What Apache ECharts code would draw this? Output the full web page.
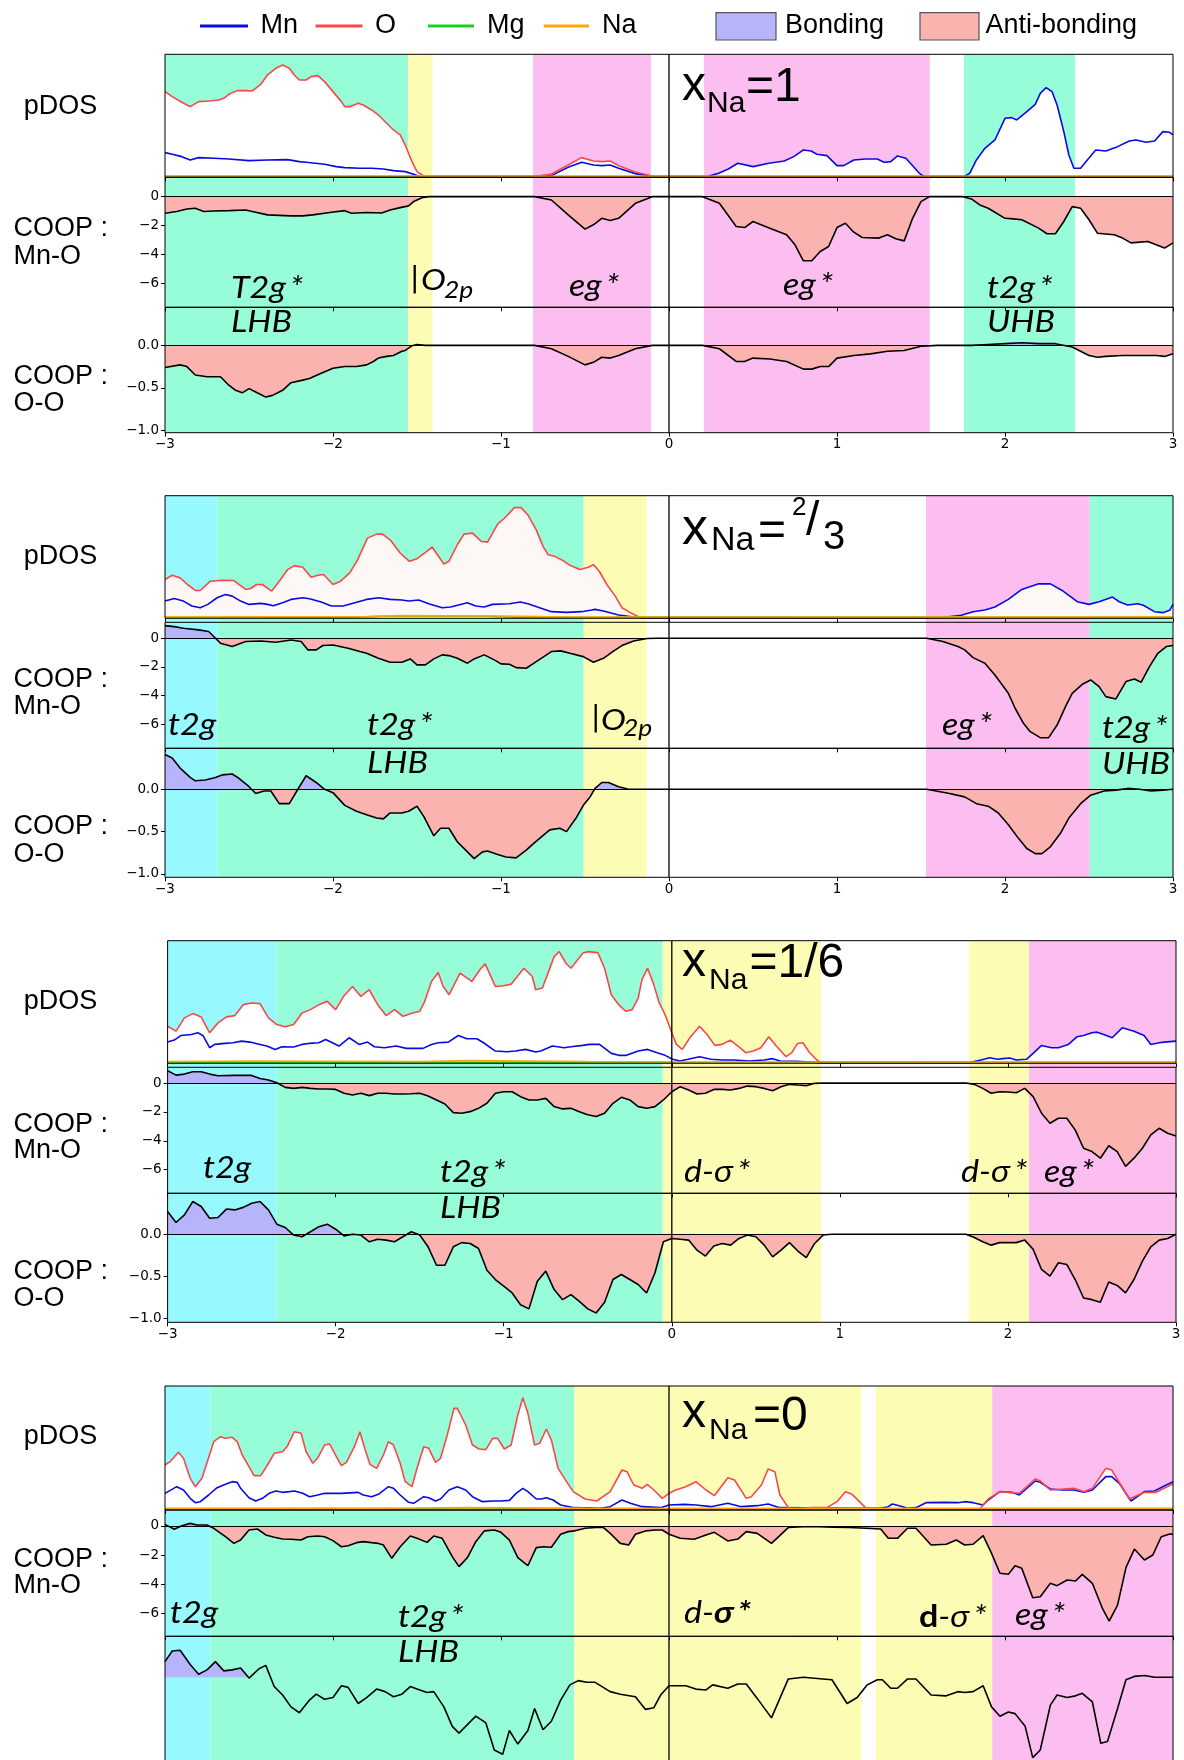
<!DOCTYPE html>
<html><head><meta charset="utf-8">
<script src="https://cdn.jsdelivr.net/npm/echarts@6/dist/echarts.min.js"></script>
<style>html,body{margin:0;padding:0;background:#fff}#c{width:1184px;height:1760px}</style>
</head><body><div id="c"></div>
<script>
// ---------------- DATA (energy in eV) ----------------
const xTicks = [-3,-2,-1,0,1,2,3];
const mnoTicks = [0,-2,-4,-6];
const ooTicks = [0,-0.5,-1];

// background regions [E0, E1, kind]
const p1_bands = [[-3,-1.554,'g'],[-1.554,-1.408,'y'],[-0.81,-0.108,'p'],[0.208,1.552,'p'],[1.756,2.417,'g']];
const p2_bands = [[-3,-2.688,'c'],[-2.688,-0.508,'g'],[-0.508,-0.133,'y'],[1.53,2.504,'p'],[2.504,3,'g']];
const p3_bands = [[-3,-2.351,'c'],[-2.351,-0.054,'g'],[-0.054,0.888,'y'],[1.768,2.126,'y'],[2.126,3,'p']];
const p4_bands = [[-3,-2.729,'c'],[-2.729,-0.565,'g'],[-0.565,1.146,'y'],[1.231,1.924,'y'],[1.924,3,'p']];

// ---- panel 1 : x_Na = 1
const p1_O = [[-3,2.55],[-2.957,2.40],[-2.9,2.23],[-2.85,2.10],[-2.8,2.25],[-2.74,2.27],[-2.68,2.30],[-2.65,2.35],[-2.62,2.47],[-2.57,2.58],[-2.52,2.58],[-2.48,2.57],[-2.43,2.77],[-2.39,3.05],[-2.34,3.25],[-2.30,3.35],[-2.26,3.25],[-2.23,3.05],[-2.20,2.90],[-2.16,2.90],[-2.13,3.00],[-2.09,3.03],[-2.05,2.85],[-2.0,2.55],[-1.95,2.25],[-1.93,2.10],[-1.90,2.10],[-1.85,2.20],[-1.82,2.15],[-1.77,2.00],[-1.73,1.85],[-1.68,1.60],[-1.64,1.40],[-1.60,1.25],[-1.57,0.95],[-1.53,0.45],[-1.50,0.15],[-1.46,0.02],[-1.41,0],[-0.8,0],[-0.7,0.08],[-0.6,0.35],[-0.52,0.57],[-0.45,0.47],[-0.4,0.45],[-0.35,0.47],[-0.3,0.33],[-0.2,0.14],[-0.1,0.02],[-0.05,0],[3,0]];
const p1_Mn = [[-3,0.72],[-2.957,0.67],[-2.9,0.60],[-2.85,0.50],[-2.8,0.57],[-2.71,0.55],[-2.62,0.53],[-2.5,0.48],[-2.39,0.50],[-2.27,0.51],[-2.2,0.45],[-2.16,0.43],[-2.05,0.37],[-1.98,0.30],[-1.93,0.27],[-1.84,0.25],[-1.77,0.25],[-1.70,0.23],[-1.64,0.18],[-1.57,0.15],[-1.52,0.07],[-1.48,0],[-0.8,0],[-0.7,0.03],[-0.6,0.28],[-0.52,0.43],[-0.45,0.35],[-0.4,0.33],[-0.35,0.35],[-0.3,0.25],[-0.2,0.09],[-0.1,0.01],[-0.05,0],[0.227,0],[0.296,0.10],[0.353,0.23],[0.41,0.40],[0.50,0.30],[0.594,0.40],[0.686,0.47],[0.743,0.60],[0.80,0.80],[0.846,0.77],[0.88,0.67],[0.94,0.63],[1.00,0.33],[1.04,0.33],[1.10,0.50],[1.17,0.53],[1.24,0.53],[1.28,0.43],[1.32,0.45],[1.36,0.62],[1.41,0.55],[1.49,0.10],[1.52,0],[1.757,0],[1.79,0.10],[1.83,0.50],[1.88,0.85],[1.94,1.10],[2.00,1.75],[2.04,1.77],[2.07,1.70],[2.13,1.95],[2.18,2.17],[2.21,2.50],[2.245,2.67],[2.28,2.55],[2.31,2.15],[2.35,1.35],[2.38,0.65],[2.41,0.25],[2.45,0.25],[2.49,0.50],[2.54,0.80],[2.60,0.77],[2.67,0.90],[2.74,1.07],[2.78,1.10],[2.84,1.03],[2.89,1.07],[2.94,1.35],[2.98,1.33],[3.0,1.25]];
const p1_Mg = [[-3,0.01],[3,0.01]];
const p1_Na = [[-3,0.02],[-1.45,0.02],[-1.4,0],[3,0]];
const p1_MnO = [[-3,-1.15],[-2.93,-1.03],[-2.87,-0.85],[-2.82,-0.80],[-2.77,-1.03],[-2.71,-0.99],[-2.62,-0.97],[-2.52,-0.92],[-2.48,-1.03],[-2.39,-1.26],[-2.25,-1.33],[-2.18,-1.33],[-2.12,-1.26],[-2.02,-1.10],[-1.93,-0.97],[-1.89,-1.15],[-1.80,-1.10],[-1.71,-1.13],[-1.66,-0.92],[-1.60,-0.76],[-1.55,-0.64],[-1.52,-0.34],[-1.47,-0.07],[-1.43,0],[-0.8,0],[-0.7,-0.23],[-0.6,-1.26],[-0.5,-2.25],[-0.45,-1.95],[-0.4,-1.5],[-0.35,-1.65],[-0.3,-1.5],[-0.2,-0.46],[-0.1,0],[0.2,0],[0.3,-0.46],[0.4,-2.07],[0.45,-2.14],[0.5,-1.72],[0.6,-2.18],[0.7,-2.64],[0.75,-3.33],[0.8,-4.44],[0.85,-4.44],[0.9,-3.8],[0.95,-3.45],[1.0,-2.14],[1.05,-1.84],[1.1,-2.46],[1.15,-2.83],[1.25,-2.87],[1.3,-2.64],[1.35,-2.92],[1.4,-3.06],[1.45,-1.5],[1.5,-0.34],[1.55,0],[1.75,0],[1.8,-0.16],[1.85,-0.57],[1.9,-0.8],[2.0,-1.5],[2.05,-1.54],[2.1,-1.6],[2.2,-2.18],[2.25,-2.57],[2.3,-2.57],[2.35,-1.72],[2.4,-0.69],[2.45,-0.8],[2.5,-1.6],[2.55,-2.53],[2.65,-2.64],[2.7,-2.87],[2.75,-3.2],[2.85,-3.1],[2.9,-3.33],[2.95,-3.56],[3.0,-3.2]];
const p1_OO = [[-3,-0.26],[-2.91,-0.23],[-2.87,-0.25],[-2.82,-0.35],[-2.75,-0.37],[-2.67,-0.37],[-2.62,-0.47],[-2.58,-0.53],[-2.54,-0.56],[-2.50,-0.51],[-2.46,-0.55],[-2.40,-0.61],[-2.36,-0.59],[-2.30,-0.53],[-2.25,-0.44],[-2.18,-0.41],[-2.14,-0.39],[-2.07,-0.33],[-2.0,-0.27],[-1.93,-0.25],[-1.86,-0.25],[-1.80,-0.23],[-1.76,-0.19],[-1.73,-0.15],[-1.68,-0.13],[-1.64,-0.12],[-1.59,-0.07],[-1.57,-0.06],[-1.53,-0.005],[-1.50,0.01],[-1.45,0],[-0.8,0],[-0.7,-0.04],[-0.6,-0.13],[-0.5,-0.23],[-0.45,-0.2],[-0.4,-0.14],[-0.35,-0.15],[-0.3,-0.12],[-0.2,-0.04],[-0.1,0],[0.2,0],[0.3,-0.04],[0.4,-0.19],[0.45,-0.19],[0.5,-0.15],[0.6,-0.16],[0.7,-0.19],[0.8,-0.28],[0.85,-0.28],[0.9,-0.25],[0.95,-0.25],[1.0,-0.15],[1.1,-0.12],[1.2,-0.10],[1.3,-0.07],[1.4,-0.06],[1.5,-0.01],[1.6,0],[1.8,0],[1.9,0.01],[2.0,0.02],[2.1,0.03],[2.2,0.02],[2.3,0.02],[2.4,-0.02],[2.5,-0.12],[2.55,-0.14],[2.6,-0.13],[2.7,-0.12],[2.8,-0.12],[2.9,-0.12],[2.95,-0.13],[3.0,-0.1]];

// ---- panel 2 : x_Na = 2/3
const p2_O = [[-3,1.15],[-2.957,1.28],[-2.91,1.20],[-2.866,1.00],[-2.82,0.82],[-2.79,0.82],[-2.73,1.10],[-2.66,1.13],[-2.59,1.12],[-2.52,0.85],[-2.49,0.88],[-2.455,1.0],[-2.42,1.0],[-2.365,0.80],[-2.32,1.10],[-2.27,1.45],[-2.23,1.57],[-2.18,1.52],[-2.13,1.22],[-2.09,1.28],[-2.056,1.30],[-2.0,1.0],[-1.955,1.10],[-1.90,1.35],[-1.853,1.75],[-1.795,2.40],[-1.74,2.52],[-1.705,2.52],[-1.66,2.35],[-1.60,1.95],[-1.545,1.70],[-1.50,1.78],[-1.455,1.95],[-1.41,2.13],[-1.34,1.62],[-1.31,1.70],[-1.26,2.20],[-1.22,2.52],[-1.17,2.55],[-1.117,2.30],[-1.08,2.28],[-1.02,2.82],[-0.98,3.0],[-0.92,3.32],[-0.88,3.32],[-0.84,3.10],[-0.79,2.65],[-0.75,2.15],[-0.72,1.90],[-0.68,1.85],[-0.63,1.72],[-0.59,1.58],[-0.53,1.45],[-0.48,1.52],[-0.45,1.60],[-0.415,1.40],[-0.37,1.0],[-0.32,0.65],[-0.28,0.30],[-0.23,0.15],[-0.17,0],[3,0]];
const p2_Mn = [[-3,0.50],[-2.945,0.58],[-2.89,0.50],[-2.84,0.35],[-2.79,0.30],[-2.745,0.40],[-2.69,0.60],[-2.64,0.70],[-2.6,0.65],[-2.55,0.50],[-2.5,0.40],[-2.43,0.43],[-2.39,0.40],[-2.355,0.36],[-2.30,0.45],[-2.25,0.55],[-2.18,0.60],[-2.14,0.57],[-2.07,0.47],[-2.01,0.35],[-1.94,0.35],[-1.87,0.45],[-1.80,0.55],[-1.727,0.60],[-1.66,0.55],[-1.59,0.53],[-1.55,0.50],[-1.49,0.53],[-1.43,0.42],[-1.35,0.30],[-1.30,0.32],[-1.20,0.45],[-1.15,0.35],[-1.10,0.32],[-1.05,0.40],[-0.95,0.42],[-0.885,0.47],[-0.84,0.42],[-0.77,0.30],[-0.70,0.18],[-0.61,0.16],[-0.52,0.18],[-0.46,0.23],[-0.44,0.25],[-0.39,0.20],[-0.30,0.08],[-0.21,0.02],[-0.14,0],[1.534,0],[1.65,0.02],[1.74,0.07],[1.81,0.18],[1.88,0.23],[1.94,0.32],[2.02,0.55],[2.10,0.85],[2.20,1.02],[2.27,1.02],[2.34,0.82],[2.43,0.48],[2.50,0.40],[2.56,0.48],[2.64,0.62],[2.68,0.48],[2.73,0.38],[2.79,0.42],[2.82,0.38],[2.89,0.18],[2.94,0.15],[2.98,0.22],[3.0,0.40]];
const p2_Mg = [[-3,0.01],[-1.9,0.01],[-1.7,0.04],[-1.1,0.04],[-0.9,0.01],[3,0.01]];
const p2_Na = [[-3,0.02],[-1.8,0.03],[-1.6,0.06],[-1.0,0.05],[-0.6,0.02],[3,0.02]];
const p2_MnO = [[-3.0,0.88],[-2.945,0.81],[-2.89,0.70],[-2.80,0.58],[-2.74,0.47],[-2.71,0.12],[-2.67,-0.35],[-2.60,-0.58],[-2.52,-0.23],[-2.43,-0.19],[-2.34,-0.28],[-2.25,-0.12],[-2.19,-0.23],[-2.15,-0.81],[-2.10,-0.81],[-2.06,-0.51],[-2.0,-0.47],[-1.91,-0.70],[-1.84,-0.93],[-1.80,-1.05],[-1.73,-1.40],[-1.66,-1.67],[-1.59,-1.67],[-1.54,-1.44],[-1.50,-1.86],[-1.45,-1.86],[-1.40,-1.44],[-1.35,-1.16],[-1.31,-1.21],[-1.26,-1.40],[-1.20,-1.74],[-1.16,-1.44],[-1.10,-1.16],[-1.04,-1.51],[-1.0,-1.79],[-0.95,-1.81],[-0.91,-2.05],[-0.85,-2.09],[-0.79,-1.63],[-0.70,-0.93],[-0.645,-0.88],[-0.59,-1.05],[-0.51,-1.28],[-0.45,-1.67],[-0.39,-1.40],[-0.335,-0.93],[-0.28,-0.51],[-0.21,-0.19],[-0.13,-0.02],[-0.07,0],[1.534,0],[1.63,-0.23],[1.72,-0.58],[1.76,-0.81],[1.81,-1.35],[1.88,-1.74],[1.94,-2.56],[2.02,-3.84],[2.06,-4.88],[2.11,-5.93],[2.15,-6.51],[2.21,-6.93],[2.26,-6.93],[2.31,-6.05],[2.36,-4.77],[2.40,-3.84],[2.46,-3.21],[2.51,-2.91],[2.56,-3.37],[2.60,-4.07],[2.66,-4.23],[2.72,-3.02],[2.77,-2.84],[2.81,-3.07],[2.86,-1.98],[2.91,-1.05],[2.96,-0.58],[3.0,-0.51]];
const p2_OO = [[-3,0.41],[-2.957,0.37],[-2.91,0.25],[-2.85,0.14],[-2.82,0.10],[-2.76,0.11],[-2.70,0.14],[-2.66,0.17],[-2.60,0.18],[-2.56,0.13],[-2.51,0.05],[-2.46,-0.05],[-2.41,-0.02],[-2.37,-0.02],[-2.32,-0.17],[-2.26,-0.17],[-2.20,0.03],[-2.16,0.16],[-2.10,0.08],[-2.05,0.0],[-2.0,-0.04],[-1.93,-0.19],[-1.86,-0.26],[-1.80,-0.30],[-1.74,-0.34],[-1.70,-0.35],[-1.66,-0.28],[-1.59,-0.28],[-1.55,-0.26],[-1.50,-0.20],[-1.46,-0.32],[-1.40,-0.55],[-1.36,-0.46],[-1.31,-0.46],[-1.26,-0.62],[-1.20,-0.74],[-1.16,-0.82],[-1.11,-0.74],[-1.08,-0.73],[-1.02,-0.77],[-0.97,-0.80],[-0.91,-0.81],[-0.85,-0.72],[-0.80,-0.63],[-0.71,-0.48],[-0.65,-0.46],[-0.61,-0.50],[-0.55,-0.33],[-0.51,-0.19],[-0.47,-0.09],[-0.44,0.01],[-0.40,0.08],[-0.36,0.08],[-0.30,0.03],[-0.24,0],[1.534,0],[1.67,-0.05],[1.76,-0.09],[1.83,-0.17],[1.90,-0.20],[1.96,-0.28],[2.02,-0.42],[2.08,-0.58],[2.13,-0.70],[2.18,-0.76],[2.22,-0.76],[2.27,-0.68],[2.33,-0.52],[2.38,-0.34],[2.45,-0.17],[2.51,-0.07],[2.59,-0.02],[2.66,-0.01],[2.73,0.01],[2.80,0],[2.87,-0.02],[2.94,-0.01],[3.0,0]];

// ---- panel 3 : x_Na = 1/6
const p3_O = [[-3,1.10],[-2.95,0.95],[-2.9,1.35],[-2.85,1.48],[-2.8,1.38],[-2.75,0.90],[-2.7,1.20],[-2.65,1.38],[-2.6,1.42],[-2.55,1.75],[-2.5,1.80],[-2.45,1.78],[-2.4,1.35],[-2.35,1.15],[-2.3,1.08],[-2.25,1.15],[-2.2,1.50],[-2.15,1.60],[-2.1,1.75],[-2.05,1.85],[-2.0,1.60],[-1.95,2.02],[-1.9,2.30],[-1.85,2.00],[-1.8,2.20],[-1.75,1.75],[-1.7,1.42],[-1.65,1.60],[-1.6,1.40],[-1.55,1.48],[-1.5,1.55],[-1.47,1.85],[-1.43,2.45],[-1.39,2.72],[-1.36,2.30],[-1.325,2.05],[-1.26,2.70],[-1.19,2.45],[-1.14,2.82],[-1.11,2.98],[-1.05,2.30],[-1.0,2.32],[-0.955,2.37],[-0.88,2.85],[-0.83,2.60],[-0.81,2.20],[-0.77,2.25],[-0.70,3.20],[-0.67,3.35],[-0.63,3.00],[-0.60,2.85],[-0.53,3.30],[-0.50,3.35],[-0.44,3.32],[-0.40,2.85],[-0.36,2.05],[-0.316,1.75],[-0.275,1.55],[-0.236,1.60],[-0.20,1.95],[-0.178,2.50],[-0.144,2.85],[-0.11,2.40],[-0.076,1.82],[-0.04,1.45],[0,0.90],[0.027,0.55],[0.062,0.40],[0.108,0.75],[0.165,1.10],[0.21,0.85],[0.256,0.52],[0.297,0.55],[0.348,0.68],[0.394,0.50],[0.44,0.30],[0.485,0.35],[0.53,0.45],[0.577,0.78],[0.622,0.50],[0.68,0.18],[0.714,0.30],[0.748,0.58],[0.78,0.60],[0.817,0.32],[0.863,0.08],[0.886,0],[3,0]];
const p3_Mn = [[-3,0.62],[-2.96,0.68],[-2.92,0.82],[-2.86,0.85],[-2.82,0.90],[-2.79,0.82],[-2.75,0.45],[-2.72,0.55],[-2.66,0.58],[-2.61,0.60],[-2.56,0.65],[-2.51,0.62],[-2.45,0.55],[-2.41,0.50],[-2.36,0.40],[-2.32,0.48],[-2.25,0.47],[-2.20,0.55],[-2.16,0.58],[-2.10,0.60],[-2.06,0.70],[-2.02,0.60],[-1.98,0.50],[-1.92,0.75],[-1.86,0.55],[-1.81,0.62],[-1.77,0.48],[-1.71,0.45],[-1.64,0.50],[-1.58,0.43],[-1.48,0.43],[-1.43,0.55],[-1.39,0.60],[-1.33,0.62],[-1.27,0.82],[-1.22,0.72],[-1.16,0.72],[-1.12,0.60],[-1.05,0.35],[-0.98,0.33],[-0.93,0.35],[-0.87,0.40],[-0.81,0.32],[-0.78,0.35],[-0.71,0.50],[-0.64,0.45],[-0.60,0.48],[-0.53,0.52],[-0.49,0.55],[-0.43,0.55],[-0.36,0.28],[-0.316,0.22],[-0.27,0.22],[-0.20,0.35],[-0.144,0.40],[-0.087,0.30],[-0.04,0.22],[0.005,0.10],[0.05,0.05],[0.096,0.10],[0.165,0.18],[0.233,0.10],[0.30,0.08],[0.37,0.08],[0.46,0.05],[0.55,0.08],[0.60,0.12],[0.645,0.05],[0.74,0.04],[0.83,0.02],[0.874,0],[1.767,0],[1.835,0.07],[1.89,0.15],[1.94,0.10],[1.97,0.12],[2.01,0.14],[2.05,0.08],[2.11,0.10],[2.155,0.30],[2.20,0.52],[2.26,0.45],[2.30,0.45],[2.36,0.55],[2.41,0.78],[2.45,0.82],[2.50,0.90],[2.53,0.92],[2.57,0.85],[2.62,0.75],[2.68,1.05],[2.75,0.95],[2.81,0.82],[2.85,0.55],[2.90,0.60],[2.93,0.62],[3.0,0.65]];
const p3_Mg = [[-3,0.01],[3,0.01]];
const p3_Na = [[-3,0.03],[-2.5,0.05],[-1.5,0.03],[-1.2,0.06],[-0.5,0.03],[0,0.02],[3,0.01]];
const p3_MnO = [[-3,0.85],[-2.95,0.55],[-2.9,0.62],[-2.85,0.78],[-2.8,0.78],[-2.75,0.62],[-2.7,0.51],[-2.6,0.53],[-2.5,0.53],[-2.45,0.32],[-2.4,0.21],[-2.35,0.02],[-2.3,-0.3],[-2.25,-0.37],[-2.2,-0.3],[-2.15,-0.37],[-2.1,-0.41],[-2.05,-0.41],[-2.0,-0.44],[-1.95,-0.71],[-1.9,-0.83],[-1.85,-0.71],[-1.8,-0.87],[-1.75,-0.71],[-1.7,-0.71],[-1.65,-0.76],[-1.6,-0.76],[-1.55,-0.74],[-1.5,-0.71],[-1.45,-0.9],[-1.4,-1.17],[-1.35,-1.45],[-1.3,-2.05],[-1.25,-2.09],[-1.2,-1.98],[-1.15,-1.75],[-1.1,-1.4],[-1.05,-0.71],[-1.0,-0.6],[-0.95,-0.6],[-0.9,-0.94],[-0.85,-1.17],[-0.8,-1.17],[-0.75,-1.06],[-0.7,-1.63],[-0.65,-1.79],[-0.6,-1.75],[-0.55,-1.98],[-0.5,-2.2],[-0.45,-2.32],[-0.4,-2.09],[-0.35,-1.4],[-0.3,-0.99],[-0.25,-1.17],[-0.2,-1.63],[-0.15,-1.75],[-0.1,-1.63],[-0.05,-1.17],[0,-0.6],[0.05,-0.25],[0.1,-0.48],[0.15,-0.76],[0.2,-0.71],[0.25,-0.44],[0.3,-0.44],[0.35,-0.48],[0.4,-0.37],[0.45,-0.21],[0.5,-0.25],[0.55,-0.37],[0.6,-0.53],[0.65,-0.25],[0.7,-0.09],[0.75,-0.14],[0.8,-0.18],[0.85,-0.02],[0.9,0],[1.75,0],[1.8,-0.09],[1.85,-0.37],[1.9,-0.71],[1.95,-0.6],[2.0,-0.62],[2.05,-0.67],[2.1,-0.37],[2.15,-0.94],[2.2,-2.09],[2.25,-2.78],[2.3,-2.44],[2.35,-2.44],[2.4,-3.24],[2.45,-4.51],[2.5,-4.74],[2.55,-5.2],[2.6,-4.34],[2.65,-4.74],[2.7,-5.77],[2.75,-5.2],[2.8,-4.51],[2.85,-3.59],[2.9,-3.13],[2.95,-3.47],[3.0,-3.66]];
const p3_OO = [[-3,0.27],[-2.95,0.14],[-2.9,0.23],[-2.85,0.39],[-2.8,0.33],[-2.75,0.19],[-2.7,0.2],[-2.65,0.3],[-2.6,0.29],[-2.55,0.32],[-2.5,0.37],[-2.45,0.39],[-2.4,0.29],[-2.35,0.12],[-2.3,0.08],[-2.25,-0.01],[-2.2,-0.03],[-2.15,0.03],[-2.1,0.09],[-2.05,0.12],[-2.0,0.06],[-1.95,-0.02],[-1.9,0],[-1.85,-0.01],[-1.8,-0.09],[-1.75,-0.06],[-1.7,-0.07],[-1.65,-0.09],[-1.6,-0.03],[-1.55,0.03],[-1.5,-0.01],[-1.45,-0.15],[-1.4,-0.37],[-1.35,-0.37],[-1.3,-0.15],[-1.25,-0.1],[-1.2,-0.11],[-1.15,-0.17],[-1.1,-0.43],[-1.05,-0.54],[-1.0,-0.62],[-0.95,-0.7],[-0.9,-0.84],[-0.85,-0.89],[-0.8,-0.56],[-0.75,-0.44],[-0.7,-0.66],[-0.65,-0.78],[-0.6,-0.72],[-0.55,-0.8],[-0.5,-0.89],[-0.45,-0.94],[-0.4,-0.81],[-0.35,-0.54],[-0.3,-0.48],[-0.25,-0.54],[-0.2,-0.6],[-0.15,-0.7],[-0.1,-0.46],[-0.05,-0.09],[0,-0.05],[0.05,-0.06],[0.1,-0.07],[0.15,-0.19],[0.2,-0.26],[0.25,-0.14],[0.3,-0.11],[0.35,-0.13],[0.4,-0.05],[0.45,-0.01],[0.5,-0.03],[0.55,-0.13],[0.6,-0.27],[0.65,-0.19],[0.7,-0.1],[0.75,-0.2],[0.8,-0.28],[0.85,-0.11],[0.9,-0.01],[0.95,0],[1.75,0],[1.8,-0.04],[1.85,-0.09],[1.9,-0.13],[1.95,-0.1],[2.0,-0.1],[2.05,-0.1],[2.1,-0.07],[2.15,-0.18],[2.2,-0.42],[2.25,-0.5],[2.3,-0.34],[2.35,-0.36],[2.4,-0.54],[2.45,-0.76],[2.5,-0.78],[2.55,-0.81],[2.6,-0.57],[2.65,-0.61],[2.7,-0.7],[2.75,-0.54],[2.8,-0.32],[2.85,-0.15],[2.9,-0.07],[2.95,-0.05],[3.0,0]];

// ---- panel 4 : x_Na = 0
const p4_O = [[-3.0,1.32],[-2.97,1.42],[-2.92,1.70],[-2.89,1.52],[-2.85,0.92],[-2.82,0.67],[-2.78,0.92],[-2.71,2.02],[-2.67,2.17],[-2.64,2.12],[-2.60,2.15],[-2.57,2.02],[-2.54,1.62],[-2.50,1.27],[-2.47,1.00],[-2.43,1.00],[-2.39,1.32],[-2.35,1.67],[-2.30,1.72],[-2.27,1.90],[-2.23,2.32],[-2.19,2.27],[-2.16,1.72],[-2.12,1.37],[-2.09,1.54],[-2.05,1.92],[-2.02,1.95],[-1.98,1.57],[-1.95,1.30],[-1.92,1.40],[-1.87,1.90],[-1.84,2.32],[-1.81,1.80],[-1.78,1.34],[-1.74,1.22],[-1.70,1.62],[-1.67,2.02],[-1.64,1.92],[-1.60,1.37],[-1.57,0.82],[-1.53,0.67],[-1.50,1.22],[-1.46,1.87],[-1.43,1.82],[-1.39,1.40],[-1.36,1.52],[-1.32,2.22],[-1.28,3.02],[-1.26,3.02],[-1.21,2.52],[-1.17,1.92],[-1.13,1.80],[-1.09,1.78],[-1.05,2.12],[-1.02,2.12],[-0.98,1.80],[-0.94,1.92],[-0.90,2.82],[-0.87,3.34],[-0.84,2.87],[-0.80,1.92],[-0.77,1.97],[-0.73,2.40],[-0.70,2.07],[-0.66,1.22],[-0.61,0.82],[-0.57,0.52],[-0.50,0.30],[-0.43,0.24],[-0.35,0.52],[-0.28,1.17],[-0.25,1.12],[-0.21,0.72],[-0.16,0.62],[-0.13,0.74],[-0.09,0.57],[-0.04,0.32],[0.0,0.47],[0.04,0.57],[0.10,0.67],[0.16,0.82],[0.22,0.57],[0.27,0.40],[0.35,0.94],[0.39,0.87],[0.46,0.32],[0.49,0.37],[0.55,0.72],[0.59,1.20],[0.63,1.12],[0.66,0.42],[0.71,0.04],[0.75,0],[0.85,0.04],[0.94,0.04],[1.00,0.22],[1.05,0.52],[1.09,0.44],[1.17,0.04],[1.26,0],[1.85,0],[1.90,0.30],[1.97,0.52],[2.085,0.47],[2.18,0.90],[2.21,0.84],[2.27,0.57],[2.41,0.62],[2.47,0.52],[2.52,0.62],[2.60,1.22],[2.635,1.17],[2.74,0.30],[2.83,0.50],[2.9,0.50],[3.0,0.76]];
const p4_Mn = [[-3,0.47],[-2.93,0.67],[-2.89,0.57],[-2.85,0.32],[-2.82,0.19],[-2.79,0.22],[-2.74,0.42],[-2.69,0.64],[-2.64,0.74],[-2.60,0.82],[-2.57,0.80],[-2.55,0.62],[-2.50,0.34],[-2.46,0.24],[-2.42,0.32],[-2.38,0.47],[-2.34,0.54],[-2.30,0.50],[-2.26,0.52],[-2.23,0.54],[-2.18,0.47],[-2.14,0.37],[-2.09,0.42],[-2.05,0.47],[-1.95,0.47],[-1.85,0.50],[-1.82,0.42],[-1.77,0.37],[-1.73,0.44],[-1.67,0.67],[-1.64,0.62],[-1.60,0.42],[-1.55,0.20],[-1.52,0.17],[-1.46,0.37],[-1.43,0.34],[-1.39,0.24],[-1.36,0.30],[-1.31,0.57],[-1.26,0.67],[-1.21,0.57],[-1.17,0.37],[-1.11,0.22],[-1.05,0.24],[-1.0,0.24],[-0.95,0.26],[-0.91,0.47],[-0.87,0.62],[-0.84,0.52],[-0.79,0.30],[-0.76,0.30],[-0.73,0.34],[-0.69,0.27],[-0.645,0.12],[-0.565,0.04],[-0.41,0.02],[-0.35,0.07],[-0.28,0.27],[-0.23,0.17],[-0.16,0.07],[-0.05,0.04],[0,0.12],[0.09,0.14],[0.16,0.12],[0.25,0.07],[0.35,0.17],[0.43,0.07],[0.525,0.10],[0.59,0.15],[0.66,0.04],[1.075,0.02],[1.26,0.02],[1.305,0.07],[1.33,0.15],[1.37,0.10],[1.42,0.02],[1.47,0.04],[1.53,0.19],[1.63,0.20],[1.72,0.19],[1.76,0.22],[1.81,0.19],[1.87,0.12],[1.90,0.27],[1.97,0.52],[2.04,0.50],[2.085,0.42],[2.18,0.84],[2.21,0.80],[2.27,0.60],[2.34,0.57],[2.41,0.57],[2.47,0.50],[2.52,0.57],[2.60,0.97],[2.635,0.97],[2.68,0.77],[2.75,0.24],[2.83,0.52],[2.89,0.54],[2.96,0.72],[3.0,0.82]];
const p4_Mg = [[-3,0.01],[3,0.01]];
const p4_Na = [[-3,0.01],[-2.0,0.02],[-1.5,0.03],[-1.2,0.04],[-0.5,0.02],[3,0.01]];
const p4_MnO = [[-3,0.11],[-2.945,-0.23],[-2.90,0.02],[-2.85,0.18],[-2.81,0.07],[-2.75,0.07],[-2.71,-0.16],[-2.64,-0.74],[-2.59,-1.20],[-2.55,-0.97],[-2.50,-0.28],[-2.45,-0.21],[-2.40,-0.62],[-2.35,-0.78],[-2.30,-0.90],[-2.25,-0.92],[-2.19,-0.97],[-2.15,-0.74],[-2.09,-0.69],[-2.05,-0.74],[-2.0,-1.01],[-1.95,-1.43],[-1.91,-1.36],[-1.86,-1.15],[-1.82,-1.08],[-1.77,-1.15],[-1.73,-1.20],[-1.70,-1.31],[-1.65,-2.23],[-1.60,-1.43],[-1.54,-0.69],[-1.50,-0.85],[-1.44,-1.13],[-1.40,-0.69],[-1.35,-0.85],[-1.29,-2.11],[-1.25,-2.80],[-1.20,-2.18],[-1.15,-1.08],[-1.10,-0.34],[-1.04,-0.28],[-1.0,-0.44],[-0.95,-0.97],[-0.90,-2.18],[-0.84,-2.74],[-0.79,-1.49],[-0.75,-1.43],[-0.70,-1.47],[-0.645,-0.57],[-0.60,-0.39],[-0.565,-0.34],[-0.50,-0.16],[-0.41,-0.09],[-0.39,-0.11],[-0.35,-0.51],[-0.29,-1.20],[-0.24,-1.31],[-0.20,-0.57],[-0.14,-0.34],[-0.08,-0.28],[-0.04,-0.28],[0,-0.57],[0.067,-0.85],[0.15,-0.92],[0.22,-0.62],[0.27,-0.44],[0.35,-1.03],[0.41,-0.90],[0.46,-0.39],[0.525,-0.51],[0.61,-1.20],[0.71,-0.11],[0.80,-0.05],[0.89,-0.05],[0.98,-0.09],[1.075,-0.11],[1.17,-0.16],[1.26,-0.21],[1.305,-0.85],[1.36,-0.85],[1.42,-0.16],[1.47,-0.16],[1.56,-1.31],[1.65,-1.26],[1.71,-0.97],[1.76,-1.31],[1.81,-1.26],[1.87,-0.67],[1.92,-1.89],[1.97,-3.26],[2.02,-3.33],[2.06,-2.74],[2.10,-2.92],[2.165,-4.94],[2.21,-4.87],[2.27,-3.95],[2.31,-4.11],[2.37,-3.72],[2.42,-3.79],[2.46,-3.33],[2.52,-3.95],[2.58,-5.68],[2.62,-6.55],[2.67,-5.45],[2.72,-2.87],[2.77,-1.59],[2.83,-2.34],[2.88,-2.0],[2.93,-0.74],[2.98,-0.55],[3.0,-0.57]];
const p4_OO = [[-3,0.185],[-2.957,0.31],[-2.91,0.32],[-2.85,0.15],[-2.80,0.035],[-2.75,0.087],[-2.70,0.185],[-2.65,0.075],[-2.60,0.087],[-2.55,0.11],[-2.50,-0.01],[-2.44,0.10],[-2.40,0.14],[-2.35,-0.11],[-2.30,-0.21],[-2.25,-0.35],[-2.20,-0.42],[-2.14,-0.27],[-2.10,-0.20],[-2.05,-0.26],[-2.0,-0.24],[-1.95,-0.10],[-1.91,-0.12],[-1.85,-0.31],[-1.80,-0.24],[-1.74,-0.14],[-1.69,-0.17],[-1.64,-0.23],[-1.59,-0.20],[-1.54,-0.11],[-1.50,-0.14],[-1.44,-0.18],[-1.40,-0.17],[-1.34,-0.35],[-1.29,-0.58],[-1.25,-0.66],[-1.19,-0.54],[-1.15,-0.46],[-1.09,-0.54],[-1.04,-0.86],[-0.99,-0.91],[-0.95,-0.63],[-0.90,-0.79],[-0.84,-0.63],[-0.80,-0.37],[-0.75,-0.62],[-0.70,-0.52],[-0.645,-0.27],[-0.59,-0.09],[-0.54,-0.04],[-0.49,-0.06],[-0.44,-0.06],[-0.35,-0.17],[-0.29,-0.20],[-0.20,-0.23],[-0.14,-0.38],[-0.09,-0.36],[-0.05,-0.21],[0,-0.10],[0.10,-0.10],[0.16,-0.14],[0.22,-0.15],[0.26,-0.09],[0.35,-0.13],[0.41,-0.08],[0.46,-0.08],[0.525,-0.25],[0.61,-0.48],[0.71,-0.02],[0.80,0],[0.915,-0.02],[0.97,-0.03],[1.06,-0.31],[1.12,-0.24],[1.18,-0.09],[1.24,-0.03],[1.27,-0.03],[1.32,-0.13],[1.36,-0.13],[1.42,-0.02],[1.47,-0.02],[1.56,-0.21],[1.65,-0.22],[1.72,-0.17],[1.76,-0.18],[1.81,-0.17],[1.87,-0.10],[1.92,-0.35],[1.97,-0.46],[2.02,-0.41],[2.06,-0.43],[2.12,-0.58],[2.165,-0.95],[2.21,-0.86],[2.27,-0.33],[2.31,-0.21],[2.37,-0.24],[2.42,-0.22],[2.46,-0.19],[2.52,-0.29],[2.57,-0.78],[2.61,-0.76],[2.67,-0.37],[2.72,-0.03],[2.77,0.01],[2.83,0.02],[2.89,0],[3.0,0]];

// ---------------- STYLE / LAYOUT ----------------
const BAND_COLORS = {g:'#97fdd9', c:'#97f9fd', y:'#fdfcb5', p:'#fcbdf0'};
const C = {Mn:'#0a0ae0', O:'#f84848', Mg:'#22cc22', Na:'#fba70c'};
const BOND = '#b6b4fb', ANTI = '#fbb3af';

const PANELS = [
  {left:165, width:1008, pdos:[54.3,123], mno:[177.3,130], oo:[307.3,125.4], pdosR:[-0.02,3.67], mnoR:[-7.66,1.34], ooR:[-1.03,0.449], fill:'#ffffff',
   bands:p1_bands, O:p1_O, Mn:p1_Mn, Mg:p1_Mg, Na:p1_Na, MnO:p1_MnO, OO:p1_OO, xLab:true, ooLab:true},
  {left:165, width:1008, pdos:[495.7,122.6], mno:[622.3,126], oo:[748.3,129], pdosR:[-0.02,3.68], mnoR:[-7.67,1.11], ooR:[-1.04,0.484], fill:'#fdf8f6',
   bands:p2_bands, O:p2_O, Mn:p2_Mn, Mg:p2_Mg, Na:p2_Na, MnO:p2_MnO, OO:p2_OO, xLab:true, ooLab:true},
  {left:167.6, width:1008.4, pdos:[940.7,122.6], mno:[1067.3,126], oo:[1193.3,129], pdosR:[-0.02,3.68], mnoR:[-7.63,1.09], ooR:[-1.05,0.488], fill:'#ffffff',
   bands:p3_bands, O:p3_O, Mn:p3_Mn, Mg:p3_Mg, Na:p3_Na, MnO:p3_MnO, OO:p3_OO, xLab:true, ooLab:true},
  {left:165, width:1008, pdos:[1386,124], mno:[1510,126.3], oo:[1636.3,124.7], pdosR:[-0.03,3.69], mnoR:[-7.6,1.1], ooR:[-0.99,0.484], fill:'#ffffff',
   bands:p4_bands, O:p4_O, Mn:p4_Mn, Mg:p4_Mg, Na:p4_Na, MnO:p4_MnO, OO:p4_OO, xLab:false, ooLab:false, ooBondMax:-2.5, ooAnti:false, ooZero:false}
];

const minus = v => (v < -1e-9 ? '\u2212' : '') + Math.abs(v);
const minus1 = v => (v < -1e-9 ? '\u2212' : '') + Math.abs(v).toFixed(1);
const TICKFONT = 'DejaVu Sans';
const TICKSIZE = 13.5;

const grid = [], xAxis = [], yAxis = [], series = [];
function addGrid(g){ grid.push(Object.assign({containLabel:false, outerBoundsMode:'none'}, g)); return grid.length - 1; }
function xAx(gi, labels){
  return {gridIndex:gi, type:'value', min:-3, max:3, interval:1, z:6,
    axisLine:{show:false, onZero:false},
    axisTick:{show:true, inside:false, length:4, lineStyle:{color:'#000', width:1}},
    axisLabel:{show:labels, color:'#000', fontSize:TICKSIZE, fontFamily:TICKFONT, margin:5, formatter:minus},
    splitLine:{show:false}};
}
function splitSign(pts){
  const pos = [], neg = [];
  for (let i = 0; i < pts.length; i++){
    const x = pts[i][0], y = pts[i][1];
    if (i > 0){
      const x0 = pts[i-1][0], y0 = pts[i-1][1];
      if ((y0 > 0 && y < 0) || (y0 < 0 && y > 0)){
        const xc = x0 + (x - x0) * (y0 / (y0 - y));
        pos.push([xc, 0]); neg.push([xc, 0]);
      }
    }
    pos.push([x, Math.max(y, 0)]); neg.push([x, Math.min(y, 0)]);
  }
  return {pos, neg};
}
function lineS(data, xi, color, width, z){
  return {type:'line', xAxisIndex:xi, yAxisIndex:xi, data, symbol:'none', showSymbol:false,
    lineStyle:{color, width}, itemStyle:{color}, z, silent:true, clip:true};
}
function areaS(data, xi, color, z){
  return {type:'line', xAxisIndex:xi, yAxisIndex:xi, data, symbol:'none', showSymbol:false,
    lineStyle:{width:0, opacity:0}, itemStyle:{color}, areaStyle:{color, opacity:1, origin:'auto'}, z, silent:true, clip:true};
}

PANELS.forEach(P => {
  const top0 = P.pdos[0], bottom = P.oo[0] + P.oo[1];
  const gb = addGrid({left:P.left, width:P.width, top:top0, height:bottom - top0, show:false});
  xAxis.push({gridIndex:gb, type:'value', min:-3, max:3, show:false});
  yAxis.push({gridIndex:gb, type:'value', min:0, max:1, show:false});
  series.push({type:'custom', xAxisIndex:gb, yAxisIndex:gb, z:1, silent:true, clip:true,
    data:P.bands.map(b => [b[0], b[1], 0, 1]), encode:{x:[0,1], y:[2,3]},
    renderItem:(params, api) => {
      const a = api.coord([api.value(0), 1]), b = api.coord([api.value(1), 0]);
      return {type:'rect', shape:{x:a[0], y:a[1], width:b[0]-a[0], height:b[1]-a[1]},
        style:{fill:BAND_COLORS[P.bands[params.dataIndex][2]]}};
    }});
  series.push({type:'custom', xAxisIndex:gb, yAxisIndex:gb, z:9, silent:true,
    data:[[0, 0]], encode:{x:0, y:1},
    renderItem:(params, api) => {
      const a = api.coord([api.value(0), 1]), b = api.coord([api.value(0), 0]);
      return {type:'line', shape:{x1:a[0], y1:a[1], x2:b[0], y2:b[1]}, style:{stroke:'#000', lineWidth:1.3}};
    }});

  const gp = addGrid({left:P.left, width:P.width, top:P.pdos[0], height:P.pdos[1], show:true, borderColor:'#000', borderWidth:1, backgroundColor:'transparent', z:7});
  xAxis.push(xAx(gp, false));
  yAxis.push({gridIndex:gp, type:'value', min:P.pdosR[0], max:P.pdosR[1], axisLine:{show:false, onZero:false}, axisTick:{show:false}, axisLabel:{show:false}, splitLine:{show:false}});
  series.push(areaS(P.O, gp, P.fill, 2));
  series.push(areaS(P.Mn, gp, P.fill, 2));
  series.push(lineS(P.Mn, gp, C.Mn, 1.6, 3));
  series.push(lineS(P.O, gp, C.O, 1.6, 3));
  series.push(lineS(P.Mg, gp, C.Mg, 1.6, 3));
  series.push(lineS(P.Na, gp, C.Na, 1.6, 3));

  const gm = addGrid({left:P.left, width:P.width, top:P.mno[0], height:P.mno[1], show:true, borderColor:'#000', borderWidth:1, backgroundColor:'transparent', z:7});
  xAxis.push(xAx(gm, false));
  yAxis.push({gridIndex:gm, type:'value', min:P.mnoR[0], max:P.mnoR[1], z:6,
    axisLine:{show:false, onZero:false},
    axisTick:{show:true, length:4, customValues:mnoTicks, lineStyle:{color:'#000'}},
    axisLabel:{show:true, customValues:mnoTicks, formatter:minus, color:'#000', fontSize:TICKSIZE, fontFamily:TICKFONT, margin:6},
    splitLine:{show:false}});
  const sm = splitSign(P.MnO);
  series.push(areaS(sm.pos, gm, BOND, 2));
  series.push(areaS(sm.neg, gm, ANTI, 2));
  const lm = lineS(P.MnO, gm, '#000', 1.6, 4);
  lm.markLine = {silent:true, symbol:['none','none'], label:{show:false}, lineStyle:{color:'#000', width:1, type:'solid'}, data:[{yAxis:0}], animation:false};
  series.push(lm);

  const go = addGrid({left:P.left, width:P.width, top:P.oo[0], height:P.oo[1], show:true, borderColor:'#000', borderWidth:1, backgroundColor:'transparent', z:7});
  xAxis.push(xAx(go, P.xLab));
  yAxis.push({gridIndex:go, type:'value', min:P.ooR[0], max:P.ooR[1], z:6,
    axisLine:{show:false, onZero:false},
    axisTick:{show:P.ooLab, length:4, customValues:ooTicks, lineStyle:{color:'#000'}},
    axisLabel:{show:P.ooLab, customValues:ooTicks, formatter:minus1, color:'#000', fontSize:TICKSIZE, fontFamily:TICKFONT, margin:6},
    splitLine:{show:false}});
  const so = splitSign(P.OO);
  let bond = so.pos;
  if (P.ooBondMax !== undefined) bond = bond.filter(p => p[0] <= P.ooBondMax + 1e-6);
  series.push(areaS(bond, go, BOND, 2));
  if (P.ooAnti !== false) series.push(areaS(so.neg, go, ANTI, 2));
  const lo = lineS(P.OO, go, '#000', 1.6, 4);
  if (P.ooZero !== false) lo.markLine = {silent:true, symbol:['none','none'], label:{show:false}, lineStyle:{color:'#000', width:1, type:'solid'}, data:[{yAxis:0}], animation:false};
  series.push(lo);
});

// ---------------- TEXT / LEGEND ----------------
const SANS = "'Liberation Sans', Arial, sans-serif";
const ITAL = "italic 31px Lato, 'Open Sans', sans-serif";
const SX = 1.1; // annotation horizontal stretch
function T(x, y, text, font, extra, scaleX){
  const s = Object.assign({text, font, fill:'#000', align:'left', verticalAlign:'middle', textAlign:'left', textVerticalAlign:'middle'}, extra || {});
  const el = {type:'text', x, y, z:30, silent:true, style:s};
  if (scaleX) el.scaleX = scaleX;
  return el;
}
const graphic = [];
const legendLines = [[200,248,C.Mn,'Mn',260.5],[315.6,362.5,C.O,'O',375],[428,474,C.Mg,'Mg',487],[543.7,589,C.Na,'Na',602]];
legendLines.forEach(l => {
  graphic.push({type:'line', z:30, silent:true, shape:{x1:l[0], y1:26, x2:l[1], y2:26}, style:{stroke:l[2], lineWidth:3}});
  graphic.push(T(l[4], 26, l[3], '27px ' + SANS));
});
graphic.push({type:'rect', z:30, silent:true, shape:{x:716, y:12.7, width:60, height:27.3}, style:{fill:BOND, stroke:'#555', lineWidth:1.2}});
graphic.push(T(785, 26, 'Bonding', '27px ' + SANS));
graphic.push({type:'rect', z:30, silent:true, shape:{x:920, y:12.7, width:59, height:27.3}, style:{fill:ANTI, stroke:'#555', lineWidth:1.2}});
graphic.push(T(985.5, 26, 'Anti-bonding', '27px ' + SANS));

const rowLabels = [
  [23.7,106.7,'pDOS'],[13.4,229,'COOP :'],[13.4,256.7,'Mn-O'],[13.4,376.7,'COOP :'],[13.4,403.3,'O-O'],
  [23.7,556.7,'pDOS'],[13.4,680,'COOP :'],[13.4,706.7,'Mn-O'],[13.4,826.7,'COOP :'],[13.4,854.3,'O-O'],
  [23.7,1001.7,'pDOS'],[13.4,1124.3,'COOP :'],[13.4,1151,'Mn-O'],[13.4,1271.7,'COOP :'],[13.4,1298.3,'O-O'],
  [23.7,1436.7,'pDOS'],[13.4,1559.3,'COOP :'],[13.4,1586,'Mn-O']
];
rowLabels.forEach(r => graphic.push(T(r[0], r[1], r[2], '27px ' + SANS)));

const BIG = '48px ' + SANS, SUB = '30px ' + SANS;
graphic.push(T(682, 87, 'x', BIG), T(707, 104, 'Na', SUB), T(746, 88, '=1', BIG));
graphic.push(T(682, 530, 'x', '52px ' + SANS), T(711, 541, 'Na', '34px ' + SANS), T(758, 532, '=', BIG),
  T(792, 508, '2', '26px ' + SANS), T(806, 522, '/', BIG), T(823, 538, '3', '40px ' + SANS));
graphic.push(T(682, 963, 'x', BIG), T(709, 980.5, 'Na', SUB), T(749.5, 964, '=1/6', BIG));
graphic.push(T(682, 1413.5, 'x', BIG), T(709, 1431, 'Na', SUB), T(753, 1417, '=0', BIG));

const ST = '\u2009*';
const ann = [
  [231,288,'T2g'+ST],[231,322,'LHB'],[569,286,'eg'+ST],[783,285,'eg'+ST],[987,288,'t2g'+ST],[987,322,'UHB'],
  [168,725,'t2g'],[367,725,'t2g'+ST],[367,763,'LHB'],[942,725,'eg'+ST],[1102,728,'t2g'+ST],[1102,764,'UHB'],
  [203,1168,'t2g'],[440,1172,'t2g'+ST],[440,1208,'LHB'],[684,1172,'d-σ'+ST],[961,1172,'d-σ'+ST],[1044,1172,'eg'+ST],
  [170,1613,'t2g'],[398,1617,'t2g'+ST],[398,1652,'LHB'],[1015,1615,'eg'+ST]
];
ann.forEach(a => graphic.push(T(a[0], a[1], a[2], ITAL, null, SX)));
[[410,280,421,281,444,291],[591,719,601,721,623,729]].forEach(o => {
  graphic.push(T(o[0], o[1], '|', "28px 'DejaVu Sans'"));
  graphic.push(T(o[2], o[3], 'O', "italic 29px Lato, sans-serif", null, 1.15));
  graphic.push(T(o[4], o[5], '2p', "italic 23px Lato, sans-serif", null, 1.15));
});
const richI = {fontStyle:'italic', fontSize:31, fontFamily:'Lato', fill:'#000', color:'#000'};
const richB = {fontStyle:'italic', fontWeight:'bold', fontSize:31, fontFamily:'Lato', fill:'#000', color:'#000'};
const richBU = {fontWeight:'bold', fontSize:31, fontFamily:'Lato', fill:'#000', color:'#000'};
graphic.push({type:'text', x:684, y:1613, z:30, silent:true, scaleX:SX, style:{text:'{i|d-}{b|σ' + ST + '}', align:'left', verticalAlign:'middle', textAlign:'left', textVerticalAlign:'middle', rich:{i:richI, b:richB}}});
graphic.push({type:'text', x:919, y:1617, z:30, silent:true, scaleX:SX, style:{text:'{b|d}{i|-σ' + ST + '}', align:'left', verticalAlign:'middle', textAlign:'left', textVerticalAlign:'middle', rich:{i:richI, b:richBU}}});

const chart = echarts.init(document.getElementById('c'), null, {renderer:'canvas', width:1184, height:1760});
chart.setOption({animation:false, backgroundColor:'#ffffff', grid, xAxis, yAxis, series, graphic});
</script></body></html>
